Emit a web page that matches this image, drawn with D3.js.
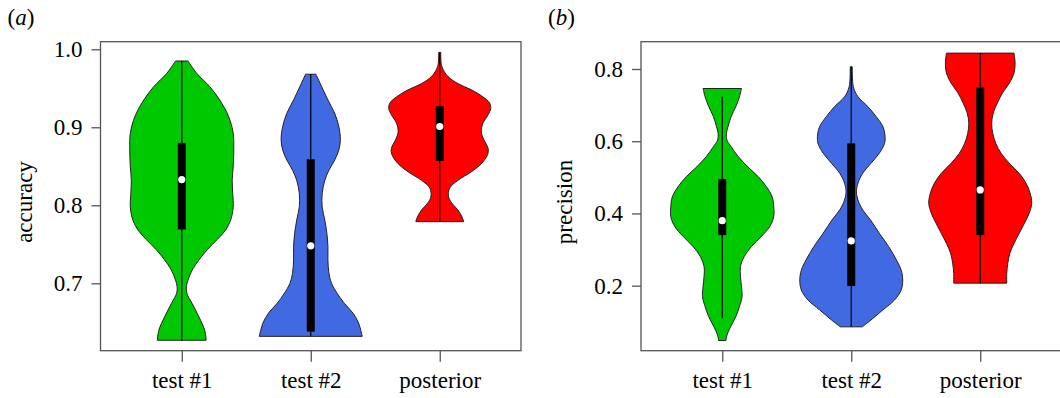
<html>
<head>
    <title>Violin plots: accuracy and precision</title>
    <script src="https://d3js.org/d3.v7.min.js"></script>
    <style>
        body { margin: 0; background-color: white; }
        svg text { font-family: "Liberation Serif", "Times New Roman", serif !important; fill: black; }
    </style>
</head>
<body>
    <div id="chart"></div>
    <script>
        var categories = ["test #1", "test #2", "posterior"];
        var colors = ["#00c800", "#4169e1", "#ff0000"];

        // panel (a) accuracy: density outline (value, relative half width) per category
        var accValues1 = [0.985, 0.969, 0.952, 0.935, 0.914, 0.892, 0.871, 0.850, 0.832, 0.815, 0.798, 0.781, 0.768, 0.756, 0.743, 0.730, 0.717, 0.704, 0.696, 0.687, 0.674, 0.657, 0.640, 0.627];
        var accDensity1 = [0.12, 0.29, 0.54, 0.73, 0.90, 0.99, 1.00, 0.99, 0.97, 0.98, 0.99, 0.94, 0.84, 0.68, 0.49, 0.33, 0.20, 0.12, 0.09, 0.10, 0.20, 0.33, 0.44, 0.47];
        var accValues2 = [0.968, 0.952, 0.935, 0.918, 0.901, 0.884, 0.871, 0.858, 0.845, 0.832, 0.815, 0.798, 0.781, 0.764, 0.747, 0.730, 0.713, 0.700, 0.687, 0.674, 0.662, 0.649, 0.632];
        var accDensity2 = [0.10, 0.21, 0.33, 0.46, 0.54, 0.57, 0.54, 0.46, 0.35, 0.27, 0.22, 0.22, 0.27, 0.31, 0.33, 0.33, 0.35, 0.40, 0.51, 0.65, 0.81, 0.92, 0.99];
        var accValues3 = [0.996, 0.978, 0.965, 0.956, 0.948, 0.939, 0.931, 0.924, 0.916, 0.905, 0.894, 0.884, 0.873, 0.865, 0.854, 0.843, 0.832, 0.822, 0.811, 0.803, 0.794, 0.785, 0.779];
        var accDensity3 = [0.02, 0.04, 0.16, 0.35, 0.61, 0.83, 0.96, 0.98, 0.93, 0.83, 0.80, 0.85, 0.93, 0.92, 0.81, 0.61, 0.35, 0.19, 0.17, 0.23, 0.35, 0.43, 0.46];
        // [whisker low, q1, median, q3, whisker high]
        var accStats = [
            [0.626, 0.769, 0.833, 0.880, 0.985],
            [0.632, 0.638, 0.748, 0.859, 0.968],
            [0.779, 0.857, 0.901, 0.927, 0.996]
        ];
        var accTicks = [0.7, 0.8, 0.9, 1.0];

        // panel (b) precision
        var precValues1 = [0.746, 0.723, 0.696, 0.668, 0.640, 0.622, 0.603, 0.585, 0.557, 0.529, 0.502, 0.474, 0.446, 0.419, 0.391, 0.363, 0.336, 0.308, 0.280, 0.253, 0.225, 0.197, 0.169, 0.142, 0.114, 0.086, 0.063, 0.048];
        var precDensity1 = [0.37, 0.33, 0.26, 0.17, 0.11, 0.08, 0.09, 0.17, 0.31, 0.49, 0.69, 0.85, 0.96, 0.99, 0.99, 0.91, 0.75, 0.56, 0.42, 0.35, 0.35, 0.37, 0.38, 0.33, 0.26, 0.16, 0.09, 0.07];
        var precValues2 = [0.806, 0.751, 0.723, 0.696, 0.668, 0.640, 0.613, 0.594, 0.567, 0.539, 0.511, 0.484, 0.460, 0.437, 0.410, 0.382, 0.345, 0.308, 0.271, 0.243, 0.216, 0.188, 0.160, 0.133, 0.105, 0.086];
        var precDensity2 = [0.02, 0.04, 0.13, 0.32, 0.48, 0.61, 0.65, 0.64, 0.54, 0.38, 0.22, 0.13, 0.10, 0.13, 0.22, 0.37, 0.54, 0.72, 0.87, 0.96, 0.99, 0.96, 0.83, 0.61, 0.38, 0.21];
        var precValues3 = [0.844, 0.817, 0.789, 0.761, 0.734, 0.706, 0.678, 0.650, 0.622, 0.594, 0.567, 0.539, 0.511, 0.484, 0.456, 0.428, 0.400, 0.373, 0.345, 0.317, 0.290, 0.262, 0.234, 0.207];
        var precDensity3 = [0.65, 0.67, 0.65, 0.56, 0.43, 0.33, 0.25, 0.22, 0.24, 0.30, 0.40, 0.56, 0.75, 0.88, 0.96, 0.99, 0.94, 0.85, 0.75, 0.65, 0.57, 0.53, 0.51, 0.51];
        var precStats = [
            [0.110, 0.340, 0.380, 0.495, 0.723],
            [0.086, 0.199, 0.324, 0.594, 0.806],
            [0.207, 0.340, 0.465, 0.749, 0.844]
        ];
        var precTicks = [0.2, 0.4, 0.6, 0.8];

        var width = 1060, height = 398;
        var frame_color = "#555555";
        var half_width = 52;
        var box_half = 4;
        var serif = "'Liberation Serif', 'Times New Roman', serif";

        var svg = d3.select("#chart").append("svg")
                    .attr("width", width)
                    .attr("height", height);

        function zip(values, density)
        {
            var out = [];
            for(var i = 0; i < values.length; ++i)
                out.push({v: values[i], d: density[i]});
            return out;
        }

        function draw_panel(p)
        {
            var x = d3.scaleLinear().domain([0.37, 3.63]).range([p.left, p.right]);
            var y = d3.scaleLinear().domain(p.domain).range([p.bottom, p.top]);
            var w = d3.scaleLinear().domain([0, 1]).range([0, half_width]);
            var g = svg.append("g").style("font-family", serif);

            for(var i = 0; i < categories.length; ++i)
            {
                var cx = x(i + 1);
                var area = d3.area()
                             .curve(d3.curveCatmullRom.alpha(0.5))
                             .y(function(d){ return y(d.v); })
                             .x0(function(d){ return cx - w(d.d); })
                             .x1(function(d){ return cx + w(d.d); });
                g.append("path")
                 .datum(p.shapes[i])
                 .attr("d", area)
                 .attr("fill", colors[i])
                 .attr("stroke", "#222")
                 .attr("stroke-width", 1);

                var s = p.stats[i];
                g.append("line")
                 .attr("x1", cx).attr("x2", cx)
                 .attr("y1", y(s[0])).attr("y2", y(s[4]))
                 .attr("stroke", "black")
                 .attr("stroke-width", 1.2);
                g.append("rect")
                 .attr("x", cx - box_half)
                 .attr("width", box_half * 2)
                 .attr("y", y(s[3]))
                 .attr("height", y(s[1]) - y(s[3]))
                 .attr("fill", "black");
                g.append("circle")
                 .attr("cx", cx)
                 .attr("cy", y(s[2]))
                 .attr("r", 3.6)
                 .attr("fill", "white");
            }

            // frame
            g.append("rect")
             .attr("x", p.left).attr("y", p.top)
             .attr("width", p.right - p.left).attr("height", p.bottom - p.top)
             .attr("fill", "none")
             .attr("stroke", frame_color)
             .attr("stroke-width", 1.3);

            var yAxis = d3.axisLeft(y).tickValues(p.ticks).tickFormat(d3.format(".1f"))
                          .tickSize(9).tickPadding(9);
            var ya = g.append("g").attr("transform", "translate(" + p.left + ",0)").call(yAxis);
            var xAxis = d3.axisBottom(x).tickValues([1, 2, 3])
                          .tickFormat(function(d){ return categories[d - 1]; })
                          .tickSize(11).tickPadding(10);
            var xa = g.append("g").attr("transform", "translate(0," + p.bottom + ")").call(xAxis);
            [ya, xa].forEach(function(a){
                a.attr("font-family", null).attr("font-size", null);
                a.select(".domain").remove();
                a.selectAll("line").attr("stroke", frame_color).attr("stroke-width", 1.3);
                a.selectAll("text")
                 .style("font-family", serif)
                 .style("font-size", "23px")
                 .attr("fill", "black");
            });
            xa.selectAll("text").attr("dy", "0.71em");

            g.append("text")
             .attr("transform", "translate(" + (p.left - 69) + "," + 202 + ") rotate(-90)")
             .attr("text-anchor", "middle")
             .style("font-size", "23px")
             .text(p.title);

            var lab = g.append("text")
                       .attr("x", p.left - 93)
                       .attr("y", 25)
                       .style("font-size", "23px");
            lab.append("tspan").text("(");
            lab.append("tspan").attr("font-style", "italic").text(p.letter);
            lab.append("tspan").text(")");
        }

        draw_panel({
            left: 100.5, right: 521, top: 41.7, bottom: 350.7,
            domain: [0.6136, 1.0097],
            shapes: [zip(accValues1, accDensity1), zip(accValues2, accDensity2), zip(accValues3, accDensity3)],
            stats: accStats, ticks: accTicks,
            title: "accuracy", letter: "a"
        });
        draw_panel({
            left: 641, right: 1061.5, top: 41.7, bottom: 350.7,
            domain: [0.0199, 0.8756],
            shapes: [zip(precValues1, precDensity1), zip(precValues2, precDensity2), zip(precValues3, precDensity3)],
            stats: precStats, ticks: precTicks,
            title: "precision", letter: "b"
        });
    </script>
</body>
</html>
